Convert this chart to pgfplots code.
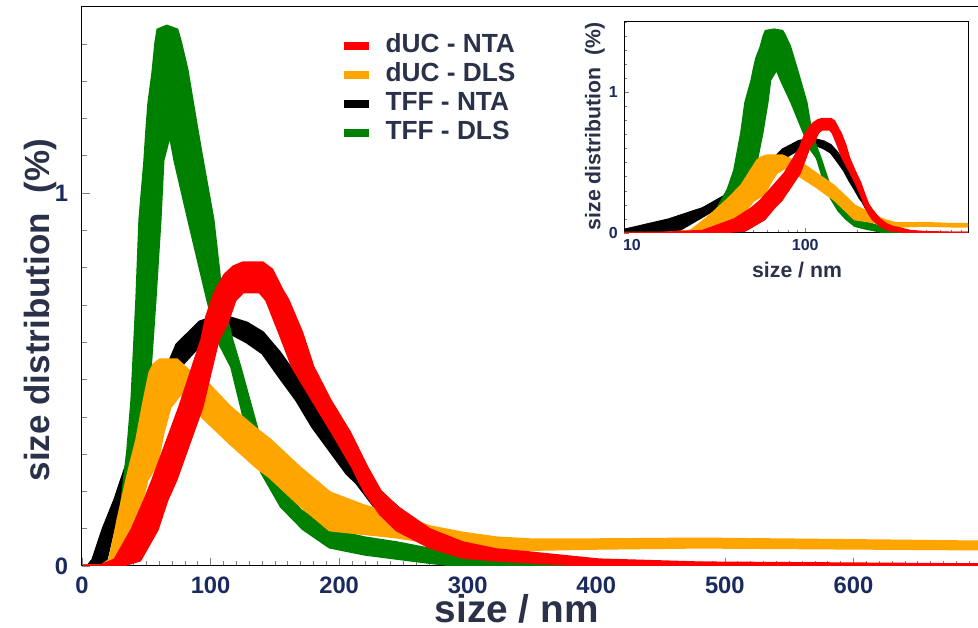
\documentclass[border=0pt]{standalone}
\usepackage{fontspec}
\setmainfont{Liberation Sans}
\usepackage{pgfplots}
\usepackage{pgfplotstable}
\pgfplotsset{compat=1.18}
\usepgfplotslibrary{fillbetween}

\definecolor{dlsorange}{HTML}{FFA500}
\definecolor{dlsgreen}{HTML}{008000}
\definecolor{ticktext}{HTML}{1B2A5E}
\definecolor{labeltext}{HTML}{2A3148}

% each curve is a band: upper and lower edge, size (nm) vs distribution (%)
\pgfplotstableread{
x y
1 0
14 0
25.6 0.016
38.9 0.097
49 0.177
55.2 0.231
76.1 0.426
93.2 0.606
97.1 0.668
103.3 0.732
111.1 0.78
118 0.802
125.1 0.812
140.6 0.812
147.6 0.794
155.4 0.74
160.1 0.713
170.9 0.625
179.5 0.534
192.7 0.445
208.2 0.357
221.4 0.265
232 0.2
244.8 0.158
270.4 0.097
296 0.062
322.5 0.043
348 0.035
402 0.016
480 0.008
698 0.003
900 0.003
}\ducntaHi
\pgfplotstableread{
x y
1 0
29.5 0
45 0.016
58.3 0.097
66 0.177
73 0.231
93.2 0.426
105.7 0.606
112.7 0.651
118.9 0.713
125.1 0.735
138.3 0.735
143.7 0.713
153.8 0.625
163.9 0.534
179.5 0.445
195 0.357
210.6 0.265
220 0.2
232 0.14
244.8 0.097
270.4 0.051
296 0.024
322.5 0.016
348 0.011
402 0
900 0
}\ducntaLo

\pgfplotstableread{
x y
1 0
15 0
21.8 0.016
28 0.123
35 0.231
37.3 0.265
42.7 0.338
47.4 0.426
52.8 0.517
56 0.54
60.6 0.552
73.8 0.552
83.9 0.52
97.1 0.491
115 0.426
136 0.365
146.1 0.338
169.4 0.263
192.7 0.196
220 0.16
244.8 0.137
270.4 0.105
296 0.088
322.5 0.075
348 0.07
402 0.07
480 0.072
620 0.067
698 0.064
900 0.064
}\ducdlsHi
\pgfplotstableread{
x y
1 0
25.6 0
35 0.016
42.7 0.123
50.5 0.231
58.3 0.276
62.9 0.357
68.4 0.426
76.1 0.46
80 0.458
94 0.399
115 0.33
136 0.265
146.1 0.239
169.4 0.164
192.7 0.097
244.8 0.078
270.4 0.064
296 0.051
322.5 0.043
402 0.048
480 0.051
698 0.046
900 0.046
}\ducdlsLo

\pgfplotstableread{
x y
1 0
4.7 0
8.5 0.016
16.3 0.097
25.6 0.177
33.4 0.257
45 0.365
60.6 0.485
73.8 0.593
91.7 0.654
107.2 0.672
115.2 0.665
128.2 0.651
140.6 0.625
153.8 0.571
167 0.507
179.5 0.437
192.7 0.365
205.9 0.303
213.7 0.275
231.5 0.2
257.2 0.12
280 0.07
301.5 0.04
325 0.015
348 0
900 0
}\tffntaHi
\pgfplotstableread{
x y
1 0
14 0
18.6 0.016
24.1 0.097
31.1 0.177
41.2 0.257
52.8 0.338
68.4 0.445
76.1 0.534
91.7 0.593
107.2 0.622
115.2 0.625
128.2 0.601
140.6 0.571
153.8 0.507
167 0.445
179.5 0.373
192.7 0.311
205.9 0.249
213.7 0.223
231.5 0.142
257.2 0.088
278.2 0.048
301.5 0.022
317 0
900 0
}\tffntaLo

\pgfplotstableread{
x y
1 0
18 0
21.8 0.016
29.5 0.123
35.7 0.311
38.9 0.445
42.7 0.713
45.1 0.928
49.0 1.088
50.5 1.169
52.1 1.241
55.2 1.322
57.5 1.402
59.1 1.437
66 1.447
73.8 1.437
76.1 1.41
81.6 1.33
85.5 1.249
89.4 1.169
92.5 1.107
101.8 0.928
108.8 0.713
116.5 0.606
122.7 0.534
136.8 0.357
150 0.25
169.4 0.15
192.7 0.097
220 0.075
244.8 0.062
270 0.045
296 0.027
320 0.015
340 0.008
402 0
900 0
}\tffdlsHi
\pgfplotstableread{
x y
1 0
33.4 0
45 0.23
47.4 0.311
51.3 0.445
56.7 0.713
60.6 0.928
62.9 1.088
68.4 1.161
72.3 1.088
83.1 0.928
97.9 0.713
105.7 0.606
116.5 0.534
129 0.357
140 0.25
155 0.16
172 0.1
192.7 0.051
220 0.032
244.8 0.021
270 0.01
296 0
900 0
}\tffdlsLo

\begin{document}
\begin{tikzpicture}
\begin{axis}[
  name=main, scale only axis, width=360pt, height=223.8pt,
  xmin=0, xmax=700, ymin=0, ymax=1.5,
  xtick={0,100,...,700}, xticklabels={0,100,200,300,400,500,600,{}},
  minor x tick num=9,
  ytick={0,1}, minor ytick={0.1,0.2,...,1.45},
  tick pos=left, tick align=inside,
  major tick length=3.2pt, minor tick length=2pt,
  /pgf/number format/assume math mode=true,
  ticklabel style={font=\fontsize{9.5}{11}\selectfont\bfseries, text=ticktext},
  xticklabel style={yshift=-1pt},
  yticklabel style={xshift=-2pt},
  xlabel={size / nm}, ylabel={size distribution\ \ (\%)},
  xlabel style={at={(axis description cs:0.483,-0.077)}, anchor=center,
    font=\fontsize{15.5}{18}\selectfont\bfseries, text=labeltext},
  ylabel style={at={(axis description cs:-0.0467,0.457)}, anchor=center,
    font=\fontsize{14}{16}\selectfont\bfseries, text=labeltext},
  line join=round,
  legend style={draw=none, fill=none, inner sep=0pt,
    at={(axis description cs:0.2865,0.957)}, anchor=north west,
    font=\fontsize{10.5}{12}\selectfont\bfseries, text=labeltext,
    nodes={inner ysep=1pt, text height=7.6pt, text depth=2pt}},
  legend cell align=left,
  legend image code/.code={\draw[#1, line width=3.2pt] (0pt,0pt) -- (10pt,0pt);
    \path[draw=none] (0pt,0pt) -- (14.5pt,0pt);},
]
\addlegendimage{red}
\addlegendentry{dUC - NTA}
\addlegendimage{dlsorange}
\addlegendentry{dUC - DLS}
\addlegendimage{black}
\addlegendentry{TFF - NTA}
\addlegendimage{dlsgreen}
\addlegendentry{TFF - DLS}
\addplot[draw=none, name path=kh, forget plot] table {\tffntaHi};
\addplot[draw=none, name path=kl, forget plot] table {\tffntaLo};
\addplot[fill=black, draw=black, line width=1.3pt, forget plot] fill between[of=kh and kl];
\addplot[draw=none, name path=gh, forget plot] table {\tffdlsHi};
\addplot[draw=none, name path=gl, forget plot] table {\tffdlsLo};
\addplot[fill=dlsgreen, draw=dlsgreen, line width=1.3pt, forget plot] fill between[of=gh and gl];
\addplot[draw=none, name path=oh, forget plot] table {\ducdlsHi};
\addplot[draw=none, name path=ol, forget plot] table {\ducdlsLo};
\addplot[fill=dlsorange, draw=dlsorange, line width=1.3pt, forget plot] fill between[of=oh and ol];
\addplot[draw=none, name path=rh, forget plot] table {\ducntaHi};
\addplot[draw=none, name path=rl, forget plot] table {\ducntaLo};
\addplot[fill=red, draw=red, line width=1.3pt, forget plot] fill between[of=rh and rl];
\end{axis}

\begin{axis}[
  name=inset, scale only axis, width=137.6pt, height=84.4pt,
  at={(216.8pt,133.2pt)}, anchor=south west,
  axis background/.style={fill=white},
  xmode=log, xmin=9, xmax=870, ymin=0, ymax=1.5,
  xtick={10,100}, xticklabels={10,100},
  minor xtick={20,30,40,50,60,70,80,90,200,300,400,500,600,700,800},
  ytick={0,1}, minor ytick={0.1,0.2,...,1.45},
  tick pos=left, tick align=inside,
  major tick length=2pt, minor tick length=1.3pt,
  /pgf/number format/assume math mode=true,
  ticklabel style={font=\fontsize{6.4}{7}\selectfont\bfseries, text=ticktext},
  xticklabel style={yshift=1pt},
  yticklabel style={xshift=1pt},
  xlabel={size / nm}, ylabel={size distribution\ \ (\%)},
  xlabel style={at={(axis description cs:0.503,-0.175)}, anchor=center,
    font=\fontsize{8.5}{10}\selectfont\bfseries, text=labeltext},
  ylabel style={at={(axis description cs:-0.0843,0.505)}, anchor=center,
    font=\fontsize{8.5}{10}\selectfont\bfseries, text=labeltext},
  line join=round,
]
\addplot[draw=none, name path=ikh] table {\tffntaHi};
\addplot[draw=none, name path=ikl] table {\tffntaLo};
\addplot[fill=black, draw=black, line width=0.8pt] fill between[of=ikh and ikl];
\addplot[draw=none, name path=igh] table {\tffdlsHi};
\addplot[draw=none, name path=igl] table {\tffdlsLo};
\addplot[fill=dlsgreen, draw=dlsgreen, line width=0.8pt] fill between[of=igh and igl];
\addplot[draw=none, name path=ioh] table {\ducdlsHi};
\addplot[draw=none, name path=iol] table {\ducdlsLo};
\addplot[fill=dlsorange, draw=dlsorange, line width=0.8pt] fill between[of=ioh and iol];
\addplot[draw=none, name path=irh] table {\ducntaHi};
\addplot[draw=none, name path=irl] table {\ducntaLo};
\addplot[fill=red, draw=red, line width=0.8pt] fill between[of=irh and irl];
\end{axis}
\pgfresetboundingbox
\path (-32.8pt,-24.8pt) rectangle (358.4pt,226.4pt);
\end{tikzpicture}
\end{document}
